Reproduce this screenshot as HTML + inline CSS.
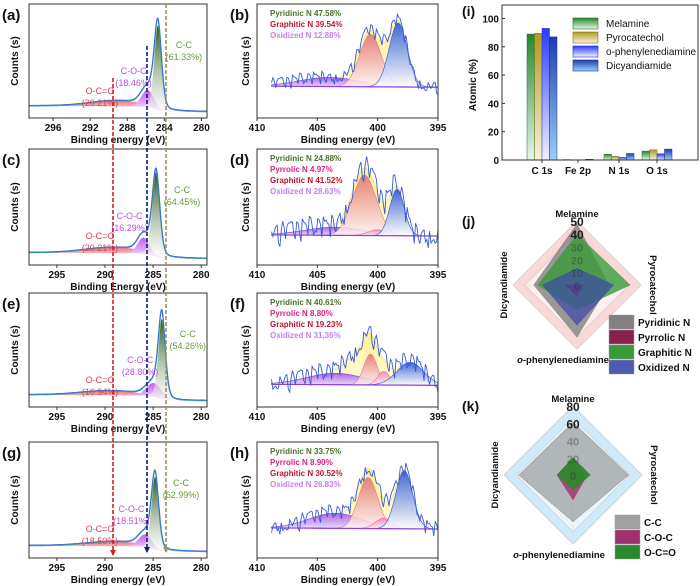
<!DOCTYPE html>
<html><head><meta charset="utf-8"><style>
body{margin:0;background:#fff;}
svg{display:block;font-family:"Liberation Sans",Arial,sans-serif;}
</style></head><body>
<svg id="fig" width="700" height="586" viewBox="0 0 700 586" xmlns="http://www.w3.org/2000/svg">
<defs>
<linearGradient id="gCC" x1="0" y1="0" x2="0" y2="1"><stop offset="0" stop-color="#2e5a1c"/><stop offset="1" stop-color="#ffffff" stop-opacity="0.6"/></linearGradient>
<linearGradient id="gCOC" x1="0" y1="0" x2="0" y2="1"><stop offset="0" stop-color="#c35cf0"/><stop offset="1" stop-color="#f4e4ff"/></linearGradient>
<linearGradient id="gOCO" x1="0" y1="0" x2="0" y2="1"><stop offset="0" stop-color="#ef7a80"/><stop offset="1" stop-color="#fff0f0"/></linearGradient>
<linearGradient id="gPyd" x1="0" y1="0" x2="0" y2="1"><stop offset="0" stop-color="#2050e0"/><stop offset="1" stop-color="#ffffff"/></linearGradient>
<linearGradient id="gGra" x1="0" y1="0" x2="0" y2="1"><stop offset="0" stop-color="#e07070"/><stop offset="1" stop-color="#fff4f0"/></linearGradient>
<linearGradient id="gPyr" x1="0" y1="0" x2="0" y2="1"><stop offset="0" stop-color="#f080b0"/><stop offset="1" stop-color="#fff0f6"/></linearGradient>
<linearGradient id="gOxi" x1="0" y1="0" x2="0" y2="1"><stop offset="0" stop-color="#a050e8"/><stop offset="1" stop-color="#e8d8ff"/></linearGradient>
<linearGradient id="gEnv" x1="0" y1="0" x2="0" y2="1"><stop offset="0" stop-color="#fff090"/><stop offset="1" stop-color="#fffbe0"/></linearGradient>
<linearGradient id="bMel" x1="0" y1="0" x2="0" y2="1"><stop offset="0" stop-color="#1f8a2a"/><stop offset="1" stop-color="#e8f4e8"/></linearGradient>
<linearGradient id="bPyr" x1="0" y1="0" x2="0" y2="1"><stop offset="0" stop-color="#b09a20"/><stop offset="1" stop-color="#f6f2dc"/></linearGradient>
<linearGradient id="bOph" x1="0" y1="0" x2="0" y2="1"><stop offset="0" stop-color="#2a3cff"/><stop offset="1" stop-color="#f0f2ff"/></linearGradient>
<linearGradient id="bDcy" x1="0" y1="0" x2="0" y2="1"><stop offset="0" stop-color="#1e3cb0"/><stop offset="1" stop-color="#9ad0f4"/></linearGradient>
</defs>
</svg>
<script>
// ---------- DATA ----------
const barCategories = ["C 1s","Fe 2p","N 1s","O 1s"];
const barSeriesNames = ["Melamine","Pyrocatechol","o-phenylenediamine","Dicyandiamide"];
const barMelamine = [89.0, 0.3, 4.0, 6.3];
const barPyrocatechol = [89.5, 0.2, 2.6, 7.2];
const barOphen = [93.0, 0.2, 1.8, 4.4];
const barDicyan = [87.0, 0.5, 4.6, 7.7];
const barYTicks = [0,20,40,60,80,100];
const radarAxes = ["Melamine","Pyrocatechol","o-phenylenediamine","Dicyandiamide"];
const nPyridinic = [47.58, 24.88, 40.61, 33.75];
const nPyrrolic = [0, 4.97, 8.80, 8.90];
const nGraphitic = [39.54, 41.52, 19.23, 30.52];
const nOxidized = [12.88, 28.63, 31.36, 26.83];
const jTicks = [0,10,20,30,40,50];
const cCC = [61.33, 64.45, 54.26, 62.99];
const cCOC = [18.46, 16.29, 28.80, 18.51];
const cOCO = [20.21, 20.21, 16.94, 18.50];
const kTicks = [0,20,40,60,80];
const c1sCC = [[284.7,0.74,0.40],[284.7,0.73,0.40],[284.1,0.70,0.36],[284.8,0.63,0.38]];
const c1sCOC = [[285.8,0.15,0.7],[286.0,0.14,0.6],[284.9,0.12,0.8],[285.8,0.11,0.7]];
const c1sOCO = [[289.0,0.05,3.0],[289.0,0.05,3.0],[289.5,0.04,3.0],[289.0,0.04,3.0]];
const c1sLabels = [["61.33%","18.46%","20.21%"],["64.45%","16.29%","20.21%"],["54.26%","28.80%","16.94%"],["62.99%","18.51%","18.50%"]];
const n1sPyd = [[398.3,0.56,0.75],[398.4,0.40,0.60],[397.3,0.20,1.10],[397.8,0.50,0.70]];
const n1sGra = [[400.6,0.46,0.90],[401.1,0.52,1.00],[400.6,0.27,0.55],[400.8,0.44,0.80]];
const n1sPyr = [[0,0,1],[400.0,0.05,0.80],[399.5,0.12,0.50],[399.5,0.09,0.70]];
const n1sOxi = [[404.0,0.08,2.5],[403.5,0.07,2.5],[403.5,0.10,2.4],[403.5,0.13,2.2]];
const n1sExtra = [[0,0,1],[0,0,1],[401.6,0.20,1.0],[0,0,1]];
const n1sBase = [0.27,0.25,0.19,0.25];
const n1sNoiseAmp = [7,12,10,8];
const n1sNoise = [0.3,-0.5,0.8,-0.2,0.6,-0.9,0.4,1.0,-0.3,0.7,-0.6,0.2,0.9,-0.4,0.5,-1.0,0.3,0.8,-0.2,0.6,1.1,-0.5,0.4,-0.8,0.7,0.2,-0.3,1.0,0.5,-0.6,0.9,-0.1,0.6,-0.7,0.3,0.8,-0.4,0.5,-0.9,0.7,0.1,-0.5,0.8,-0.3,0.6,1.0,-0.8,0.4,-0.2,0.9,-0.6,0.3,0.7,-1.1,0.5,-0.3,0.8,-0.5,0.2,0.6];
const n1sLegend = [
 [["Pyridinic N 47.58%","#4a7028"],["Graphitic N 39.54%","#c8102e"],["Oxidized N 12.88%","#c080f0"]],
 [["Pyridinic N 24.88%","#4a7028"],["Pyrrolic N 4.97%","#e0207a"],["Graphitic N 41.52%","#c8102e"],["Oxidized N 28.63%","#c080f0"]],
 [["Pyridinic N 40.61%","#4a7028"],["Pyrrolic N 8.80%","#e0207a"],["Graphitic N 19.23%","#c8102e"],["Oxidized N 31.36%","#c080f0"]],
 [["Pyridinic N 33.75%","#4a7028"],["Pyrrolic N 8.90%","#e0207a"],["Graphitic N 30.52%","#c8102e"],["Oxidized N 26.83%","#c080f0"]]
];
// ---------- DRAWING ----------
const NS="http://www.w3.org/2000/svg";
const svg=document.getElementById('fig');
function mk(tag,attrs,parent){const e=document.createElementNS(NS,tag);for(const k in attrs)e.setAttribute(k,attrs[k]);(parent||svg).appendChild(e);return e;}
function txt(s,x,y,size,fill,weight,anchor,parent,rot){const t=mk('text',{x:x,y:y,'font-size':size,fill:fill||'#111','font-weight':weight||'bold','text-anchor':anchor||'start'},parent);if(rot)t.setAttribute('transform','rotate('+rot+' '+x+' '+y+')');t.textContent=s;return t;}
function gauss(e,c){return c[1]*Math.exp(-0.5*Math.pow((e-c[0])/c[2],2));}
function voigt(e,c){const d=(e-c[0])/c[2];return c[1]*(0.75*Math.exp(-0.5*d*d)+0.25/(1+d*d));}

const rowTops=[4,149,293,442];
const rowH=[114,116,114,116];
const letL=["(a)","(c)","(e)","(g)"], letM=["(b)","(d)","(f)","(h)"];
const xTitleL=["Binding energy (eV)","Binding Energy (eV)","Binding energy (eV)","Binding energy (eV)"];

for(let r=0;r<4;r++){
 const top=rowTops[r],h=rowH[r],bot=top+h;
 const g=mk('g',{});
 
 
 const x0=29,x1=207;
 const eMax=r==0?298.6:297.9, eMin=279.4;
 const X=e=>x0+(eMax-e)/(eMax-eMin)*(x1-x0);
 const Y=f=>bot-f*h;
 const bg=e=>0.055+0.04/(1+Math.exp((c1sCC[r][0]+0.3-e)/0.4))+0.012*(e-eMin)/(eMax-eMin);
 function area(fn,fill,name){let d='M'+X(eMax)+' '+Y(bg(eMax));for(let e=eMax;e>=eMin;e-=0.05)d+=' L'+X(e).toFixed(1)+' '+Y(bg(e)+fn(e)).toFixed(1);for(let e=eMin;e<=eMax;e+=0.1)d+=' L'+X(e).toFixed(1)+' '+Y(bg(e)).toFixed(1);const p=mk('path',{d:d+'Z',fill:fill,stroke:'none'},g);return p;}
 area(e=>gauss(e,c1sOCO[r]),'url(#gOCO)','oco-peak');
 area(e=>gauss(e,c1sCOC[r]),'url(#gCOC)','coc-peak');
 area(e=>voigt(e,c1sCC[r]),'url(#gCC)','cc-peak');
 let dEnv='',dTop='';
 for(let e=eMax;e>=eMin;e-=0.05){const v=bg(e)+voigt(e,c1sCC[r])+gauss(e,c1sCOC[r])+gauss(e,c1sOCO[r]);dEnv+=(dEnv?' L':'M')+X(e).toFixed(1)+' '+Y(v).toFixed(1);dTop+=(dTop?' L':'M')+X(e).toFixed(1)+' '+(Y(v)-0.6).toFixed(1);}
 const env=mk('path',{d:dEnv,fill:'none',stroke:'#3a9aa8','stroke-width':1.4},g);
 mk('path',{d:dTop,fill:'none',stroke:'#3a64e0','stroke-width':0.7},g);
 const fr=mk('rect',{x:x0,y:top,width:x1-x0,height:h,fill:'none',stroke:'#333','stroke-width':1},g);
 const ticks=r==0?[296,292,288,284,280]:[295,290,285,280];
 ticks.forEach(t=>{mk('line',{x1:X(t),x2:X(t),y1:bot,y2:bot+3,stroke:'#333'},g);txt(String(t),X(t),bot+13,10,'#111','bold','middle',g);});
 txt(xTitleL[r],118,bot+25,10,'#111','bold','middle',g);
 txt('Counts (s)',18,top+h/2,10,'#111','bold','middle',g,-90);
 txt(letL[r],2,top+16,15,'#111','bold','start',g);
 const pkX=X(c1sCC[r][0]);
 txt('C-C',pkX+26,top+44,9,'#6a9a3a','normal','middle',g);
 txt('('+c1sLabels[r][0]+')',pkX+26,top+56,9,'#6a9a3a','normal','middle',g);
 txt('C-O-C',X(c1sCOC[r][0])-14,top+70,9,'#c050e0','normal','middle',g);
 txt('('+c1sLabels[r][1]+')',X(c1sCOC[r][0])-14,top+82,9,'#c050e0','normal','middle',g);
 txt('O-C=O',100,top+90,9,'#e04050','normal','middle',g);
 txt('('+c1sLabels[r][2]+')',100,top+102,9,'#e04050','normal','middle',g);

 const gn=mk('g',{});
 
 
 const nx0=257,nx1=438,nMax=410,nMin=395;
 const NX=e=>nx0+(nMax-e)/(nMax-nMin)*(nx1-nx0);
 const nbg=e=>n1sBase[r]+0.01*(e-nMin)/(nMax-nMin);
 const comps=[[n1sOxi[r],'url(#gOxi)','oxidized-n-peak','#8040e0'],[n1sGra[r],'url(#gGra)','graphitic-n-peak','#e08080'],[n1sPyr[r],'url(#gPyr)','pyrrolic-n-peak','#f070a0'],[n1sPyd[r],'url(#gPyd)','pyridinic-n-peak','#3050e0']];
 const envF=e=>nbg(e)+gauss(e,n1sOxi[r])+gauss(e,n1sGra[r])+gauss(e,n1sPyr[r])+gauss(e,n1sPyd[r])+gauss(e,n1sExtra[r]);
 const s0=408.8,s1=395;
 let de='M'+NX(s0)+' '+Y(nbg(s0));
 for(let e=s0;e>=s1;e-=0.05)de+=' L'+NX(e).toFixed(1)+' '+Y(envF(e)).toFixed(1);
 de+=' L'+NX(s1)+' '+Y(nbg(s1))+'Z';
 const ep=mk('path',{d:de,fill:'url(#gEnv)',stroke:'#f0e070','stroke-width':0.6},gn);
 comps.forEach(c=>{if(c[0][1]<=0)return;let d='';for(let e=s0;e>=s1;e-=0.05){const v=gauss(e,c[0]);d+=(d?' L':'M')+NX(e).toFixed(1)+' '+Y(nbg(e)+v).toFixed(1);}d+=' L'+NX(s1)+' '+Y(nbg(s1))+' L'+NX(s0)+' '+Y(nbg(s0))+'Z';const p=mk('path',{d:d,fill:c[1],stroke:c[3],'stroke-width':0.6,'fill-opacity':0.85},gn);});
 mk('line',{x1:NX(s0),x2:NX(s1),y1:Y(nbg(s0)),y2:Y(nbg(s1)),stroke:'#9040e0','stroke-width':1.2},gn);
 let dd='';const N=n1sNoise.length*2;
 for(let i=0;i<N;i++){const e=s0-(s0-s1)*i/(N-1);const nz=n1sNoise[(i*7+r*11)%n1sNoise.length];dd+=(dd?' L':'M')+NX(e).toFixed(1)+' '+(Y(envF(e))-nz*n1sNoiseAmp[r]).toFixed(1);}
 const raw=mk('path',{d:dd,fill:'none',stroke:'#3a5ad8','stroke-width':0.9},gn);
 const nf=mk('rect',{x:nx0,y:top,width:nx1-nx0,height:h,fill:'none',stroke:'#333'},gn);
 [410,405,400,395].forEach(t=>{mk('line',{x1:NX(t),x2:NX(t),y1:bot,y2:bot+3,stroke:'#333'},gn);txt(String(t),NX(t),bot+13,10,'#111','bold','middle',gn);});
 txt('Binding energy (eV)',348,bot+25,10,'#111','bold','middle',gn);
 txt('Counts (s)',249,top+h/2,10,'#111','bold','middle',gn,-90);
 txt(letM[r],230,top+16,15,'#111','bold','start',gn);
 n1sLegend[r].forEach((l,i)=>{const t=txt(l[0],270,top+12+i*11,8,l[1],'bold','start',gn);});
}
[[113,78,555,'#d02020'],[147,46,552,'#101a80'],[166,4,552,'#a09060']].forEach(l=>{
 const ln=mk('line',{x1:l[0],x2:l[0],y1:l[1],y2:l[2],stroke:l[3],'stroke-width':1.6,'stroke-dasharray':'4 2'});
 
 mk('path',{d:'M'+(l[0]-3)+' '+(l[2]-5)+' L'+(l[0]+3)+' '+(l[2]-5)+' L'+l[0]+' '+(l[2]+1)+'Z',fill:l[3]});
});

(function(){
 const g=mk('g',{});
 const px0=502,px1=698,py0=160,py1=5;
 const Yb=v=>py0-v*(py0-18.5)/100;
 const catX=[542,578,619,657];
 const series=[barMelamine,barPyrocatechol,barOphen,barDicyan];
 const fills=['url(#bMel)','url(#bPyr)','url(#bOph)','url(#bDcy)'];
 const strokes=['#2a6a2a','#7a7020','#2030c0','#1a3090'];
 const bw=7.5;
 series.forEach((s,si)=>{s.forEach((v,ci)=>{const x=catX[ci]+(si-2)*bw;const b=mk('rect',{x:x,y:Yb(v),width:bw,height:py0-Yb(v),fill:fills[si],stroke:strokes[si],'stroke-width':0.5},g);});});
 const fr=mk('rect',{x:px0,y:py1,width:px1-px0,height:py0-py1,fill:'none',stroke:'#333'},g);
 barYTicks.forEach(t=>{mk('line',{x1:px0,x2:px0+3,y1:Yb(t),y2:Yb(t),stroke:'#333'},g);txt(String(t),px0-3,Yb(t)+4,10,'#111','bold','end',g);});
 barCategories.forEach((c,i)=>{mk('line',{x1:catX[i],x2:catX[i],y1:py0,y2:py0+3,stroke:'#333'},g);txt(c,catX[i],py0+14,10,'#111','bold','middle',g);});
 txt('Atomic (%)',476,85,10,'#111','bold','middle',g,-90);
 txt('(i)',462,16,14,'#111','bold','start',g);
 barSeriesNames.forEach((n,i)=>{const y=18+i*14;mk('rect',{x:573,y:y,width:25,height:11,fill:fills[i],stroke:strokes[i],'stroke-width':0.6},g);const t=txt(n,606,y+9,10,'#111','normal','start',g);});
})();

function radar(cx,cy,R,max,ticks,series,colors,names,legOrder,legX,legY,letter,bandCol,nm){
 const g=mk('g',{});
 const ang=[-90,0,90,180].map(a=>a*Math.PI/180);
 const P=(v,i)=>[cx+Math.cos(ang[i])*R*v/max,cy+Math.sin(ang[i])*R*v/max];
 const poly=(vals)=>vals.map((v,i)=>P(v,i).map(n=>n.toFixed(1)).join(',')).join(' ');
 mk('polygon',{points:poly([max,max,max,max]),fill:bandCol,'fill-opacity':0.55,stroke:'#ccc','stroke-width':0.8},g);
 const inner=max*0.82;
 mk('polygon',{points:poly([inner,inner,inner,inner]),fill:'#fff','fill-opacity':0.6,stroke:'#ccc','stroke-width':0.6},g);
 ticks.slice(1,-1).forEach(t=>mk('polygon',{points:poly([t,t,t,t]),fill:'none',stroke:'#e0e0e0','stroke-width':0.5},g));
 for(let i=0;i<4;i++){const p=P(max,i);mk('line',{x1:cx,y1:cy,x2:p[0],y2:p[1],stroke:'#ddd','stroke-width':0.6},g);}
 series.forEach((s,si)=>{const p=mk('polygon',{points:poly(s),fill:colors[si][0],'fill-opacity':colors[si][1],stroke:colors[si][0],'stroke-width':0.5},g);});
 ticks.forEach((t,i)=>{const y=cy-R*t/max+5;txt(String(t),cx,y,i>=ticks.length-2?12:11,i>=ticks.length-2?'#222':'rgba(40,40,40,0.35)','bold','middle',g);});
 txt('Melamine',cx,cy-R-4,9.5,'#111','bold','middle',g);
 txt('Pyrocatechol',cx+R+9,cy,9.5,'#111','bold','middle',g,90);
 txt('Dicyandiamide',cx-R-6,cy,9.5,'#111','bold','middle',g,-90);
 const ot=mk('text',{x:cx-14,y:cy+R+14,'font-size':9.5,'font-weight':'bold','text-anchor':'middle',fill:'#111'},g);
 const it=mk('tspan',{'font-style':'italic'},ot);it.textContent='o';const rt=mk('tspan',{},ot);rt.textContent='-phenylenediamine';
 txt(letter,462,cy-R+5,14,'#111','bold','start',g);
 legOrder.forEach((si,i)=>{const y=legY+i*15;mk('rect',{x:legX,y:y,width:25,height:14,fill:colors[si][0],'fill-opacity':Math.min(1,colors[si][1]+0.2),stroke:'#999','stroke-width':0.5},g);const t=txt(names[si],legX+29,y+11,10,'#111','bold','start',g);});
}
radar(577,285,64,50,jTicks,[nPyridinic,nGraphitic,nPyrrolic,nOxidized],[['#7a7a7a',0.75],['#3a9a3a',0.8],['#8a2050',0.85],['#3a48a8',0.7]],['Pyridinic N','Graphitic N','Pyrrolic N','Oxidized N'],[0,2,1,3],609,315,'(j)','#f8b8b8','n-species-radar');
radar(573,475,69,80,kTicks,[cCC,cCOC,cOCO],[['#8a8a8a',0.6],['#a03070',0.8],['#2a8a2a',0.9]],['C-C','C-O-C','O-C=O'],[0,1,2],615,515,'(k)','#a8daf6','c-species-radar');
</script>
</body></html>
